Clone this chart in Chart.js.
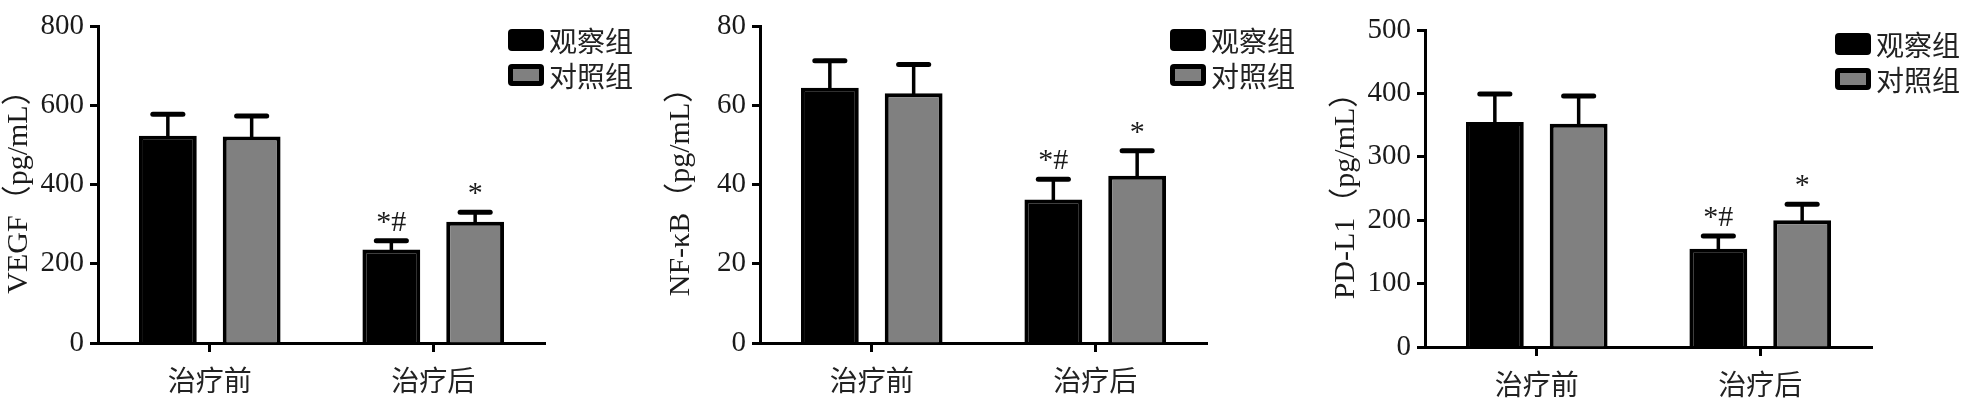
<!DOCTYPE html>
<html>
<head>
<meta charset="utf-8">
<script src="https://cdn.jsdelivr.net/npm/chart.js@4.4.1/dist/chart.umd.min.js"></script>
<style>
  body { margin: 0; background: #fff; width: 1982px; height: 399px; position: relative; overflow: hidden; }
  .panel { position: absolute; top: 0; }
</style>
</head>
<body>
<div class="panel" style="left:0px"><canvas id="chartVegf" width="662" height="399"></canvas></div>
<div class="panel" style="left:662px"><canvas id="chartNfkb" width="662" height="399"></canvas></div>
<div class="panel" style="left:1327px"><canvas id="chartPdl1" width="662" height="399"></canvas></div>
<script>
// categories and groups
const categories = ['治疗前', '治疗后'];
const groupNames = ['观察组', '对照组'];

// VEGF (pg/mL)
const vegfObs = [523, 236];
const vegfObsErr = [54, 22];
const vegfCtl = [521, 306];
const vegfCtlErr = [52, 24];

// NF-κB (pg/mL)
const nfkbObs = [64.4, 36.2];
const nfkbObsErr = [6.8, 5.1];
const nfkbCtl = [63.0, 42.2];
const nfkbCtlErr = [7.3, 6.3];

// PD-L1 (pg/mL)
const pdl1Obs = [355, 155];
const pdl1ObsErr = [44, 20];
const pdl1Ctl = [352, 200];
const pdl1CtlErr = [44, 25];

// significance marks
const obsMarks = ['', '*#'];
const ctlMarks = ['', '*'];

const serif = "'Liberation Serif', 'Noto Sans CJK SC', serif";
const cjk = "'Noto Sans CJK SC', sans-serif";
const textColor = '#1a1a1a';

Chart.defaults.font.family = serif;
Chart.defaults.color = textColor;

const errorBars = {
  id: 'errorBars',
  afterDatasetsDraw(chart) {
    const ctx = chart.ctx;
    const y = chart.scales.y;
    chart.data.datasets.forEach((ds, i) => {
      const meta = chart.getDatasetMeta(i);
      meta.data.forEach((bar, j) => {
        const capY = y.getPixelForValue(ds.data[j] + ds.errors[j]);
        const half = bar.width * 0.26;
        ctx.save();
        ctx.strokeStyle = '#000';
        ctx.lineCap = 'round';
        ctx.lineWidth = 3.5;
        ctx.beginPath();
        ctx.moveTo(bar.x, bar.y);
        ctx.lineTo(bar.x, capY);
        ctx.stroke();
        ctx.lineWidth = 5;
        ctx.beginPath();
        ctx.moveTo(bar.x - half, capY);
        ctx.lineTo(bar.x + half, capY);
        ctx.stroke();
        if (ds.marks[j]) {
          ctx.fillStyle = textColor;
          ctx.font = '30px ' + serif;
          ctx.textAlign = 'center';
          ctx.textBaseline = 'alphabetic';
          ctx.fillText(ds.marks[j], bar.x, capY - 10);
        }
        ctx.restore();
      });
    });
  }
};

const boxLegend = {
  id: 'boxLegend',
  afterDraw(chart) {
    const ctx = chart.ctx;
    const area = chart.chartArea;
    const x = area.right - 37;
    chart.data.datasets.forEach((ds, i) => {
      const top = area.top + 3 + i * 35;
      ctx.save();
      ctx.fillStyle = '#000';
      ctx.beginPath();
      ctx.roundRect(x, top, 36, 22, 4);
      ctx.fill();
      if (ds.backgroundColor !== '#000') {
        ctx.fillStyle = ds.backgroundColor;
        ctx.fillRect(x + 5, top + 5, 26, 12);
      }
      ctx.fillStyle = '#222';
      ctx.font = '28px ' + cjk;
      ctx.textAlign = 'left';
      ctx.textBaseline = 'middle';
      ctx.fillText(ds.label, x + 41, top + 12);
      ctx.restore();
    });
  }
};

function makeChart(id, title, obs, obsErr, ctl, ctlErr, yMax, step, topPad, xHeight) {
  return new Chart(document.getElementById(id), {
    type: 'bar',
    data: {
      labels: categories,
      datasets: [
        { label: groupNames[0], data: obs, errors: obsErr, marks: obsMarks,
          backgroundColor: '#000', borderColor: '#000', borderWidth: 4,
          categoryPercentage: 0.75, barPercentage: 0.69 },
        { label: groupNames[1], data: ctl, errors: ctlErr, marks: ctlMarks,
          backgroundColor: '#808080', borderColor: '#000', borderWidth: 4,
          categoryPercentage: 0.75, barPercentage: 0.69 }
      ]
    },
    options: {
      responsive: false,
      animation: false,
      layout: { padding: { left: 0, right: 117, top: topPad, bottom: 0 } },
      plugins: { legend: { display: false }, tooltip: { enabled: false } },
      scales: {
        x: {
          grid: { offset: false, drawOnChartArea: false, drawTicks: true, tickLength: 9, tickWidth: 3, tickColor: '#000' },
          border: { display: true, color: '#000', width: 3 },
          ticks: { font: { family: cjk, size: 28 }, color: '#222', padding: 12 },
          afterFit(scale) { scale.height = xHeight; }
        },
        y: {
          min: 0, max: yMax,
          ticks: { stepSize: step, font: { size: 29 }, color: textColor, padding: 6 },
          grid: { drawOnChartArea: false, drawTicks: true, tickLength: 8, tickWidth: 3, tickColor: '#000' },
          border: { display: true, color: '#000', width: 3 },
          title: { display: true, text: title, font: { size: 30 }, color: textColor, padding: { top: 1, bottom: 0 } },
          afterFit(scale) { scale.width = 98; }
        }
      }
    },
    plugins: [errorBars, boxLegend]
  });
}

makeChart('chartVegf', 'VEGF（pg/mL）', vegfObs, vegfObsErr, vegfCtl, vegfCtlErr, 800, 200, 26, 56);
makeChart('chartNfkb', 'NF-κB（pg/mL）', nfkbObs, nfkbObsErr, nfkbCtl, nfkbCtlErr, 80, 20, 26, 56);
makeChart('chartPdl1', 'PD-L1（pg/mL）', pdl1Obs, pdl1ObsErr, pdl1Ctl, pdl1CtlErr, 500, 100, 30, 52);
</script>
</body>
</html>
